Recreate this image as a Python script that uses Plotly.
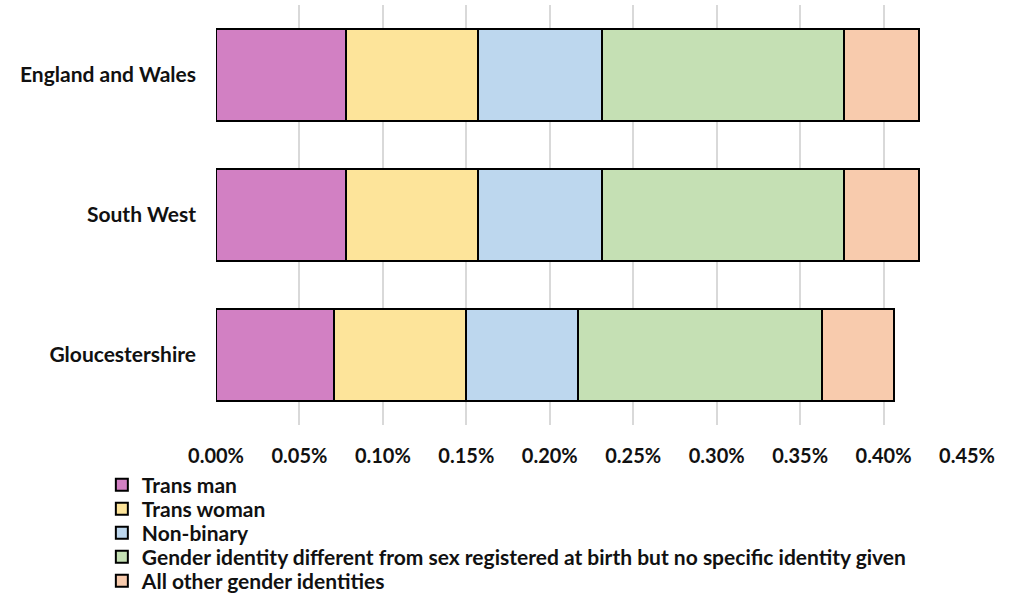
import plotly.graph_objects as go

categories = ["England and Wales", "South West", "Gloucestershire"]
series_names = [
    "Trans man",
    "Trans woman",
    "Non-binary",
    "Gender identity different from sex registered at birth but no specific identity given",
    "All other gender identities",
]
trans_man = [0.078, 0.078, 0.071]
trans_woman = [0.079, 0.079, 0.079]
non_binary = [0.074, 0.074, 0.067]
no_specific = [0.145, 0.145, 0.146]
all_other = [0.045, 0.045, 0.043]
tick_values = [0, 0.05, 0.10, 0.15, 0.20, 0.25, 0.30, 0.35, 0.40, 0.45]
tick_labels = [f"{v:.2f}%" for v in tick_values]

colors = ["#D280C3", "#FDE49A", "#BDD7EE", "#C5E0B4", "#F8CBAD"]
values = [trans_man, trans_woman, non_binary, no_specific, all_other]

FONT = "Lato"
TXT = "#111111"

# plot area geometry (pixels) used to place the separate legend rows
PLOT_TOP, PLOT_BOTTOM = 5, 425
PLOT_H = PLOT_BOTTOM - PLOT_TOP
LEGEND_FIRST_CENTER = 485
LEGEND_STEP = 24

fig = go.Figure()
legend_layouts = {}
for i, (name, vals, col) in enumerate(zip(series_names, values, colors)):
    lname = "legend" if i == 0 else f"legend{i + 1}"
    fig.add_trace(go.Bar(
        y=categories, x=vals, name=name, orientation="h",
        marker=dict(color=col, line=dict(color="#000000", width=2)),
        legend=lname,
    ))
    center_px = LEGEND_FIRST_CENTER + i * LEGEND_STEP
    legend_layouts[lname] = dict(
        orientation="v",
        x=-0.152, xanchor="left",
        y=(PLOT_BOTTOM - center_px) / PLOT_H, yanchor="middle",
        font=dict(family=FONT, size=21, color=TXT, weight="bold"),
        itemwidth=30, bgcolor="rgba(0,0,0,0)", borderwidth=0,
    )

fig.update_layout(
    width=1012, height=594,
    barmode="stack", bargap=0.336,
    plot_bgcolor="white", paper_bgcolor="white",
    margin=dict(l=216, r=45, t=PLOT_TOP, b=594 - PLOT_BOTTOM, autoexpand=False),
    font=dict(family=FONT, size=16, color=TXT),
    showlegend=True,
    **legend_layouts,
)
fig.update_xaxes(
    range=[0, 0.45], tickvals=tick_values, ticktext=tick_labels,
    showgrid=True, gridcolor="#D9D9D9", gridwidth=1.5,
    zeroline=False, showline=False, ticks="", ticklabelstandoff=17,
    tickfont=dict(family=FONT, size=20, color=TXT, weight="bold"),
)
fig.update_yaxes(
    autorange="reversed", showgrid=False, zeroline=False,
    showline=False, ticks="", ticklen=0, ticklabelstandoff=19,
    tickfont=dict(family=FONT, size=21, color=TXT, weight="bold"),
)

fig.write_html(
    "out.html",
    config={"displayModeBar": False},
    post_script="document.body.style.margin='0';",
)
